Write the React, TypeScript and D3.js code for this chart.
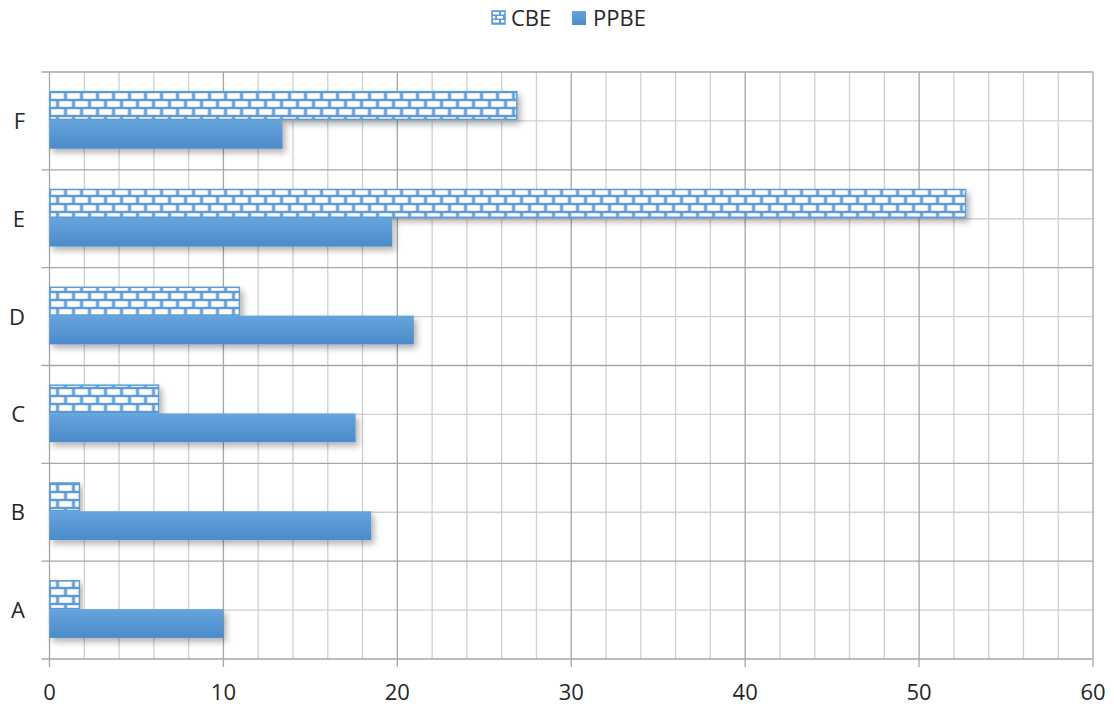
import React from "react";
import * as d3 from "d3";

const categories = ["A", "B", "C", "D", "E", "F"];
const seriesNames = ["CBE", "PPBE"];
const cbeValues = [1.75, 1.75, 6.3, 10.95, 52.7, 26.9];
const ppbeValues = [10.0, 18.5, 17.6, 20.95, 19.7, 13.4];
const xTicks = [0, 10, 20, 30, 40, 50, 60];
const minorStep = 2;

const W = 1114;
const H = 707;
const left = 49.5;
const right = 1093;
const top = 72;
const bottom = 659;
const FONT = "'Open Sans', 'Noto Sans', sans-serif";

export default function App() {
  const x = d3.scaleLinear().domain([0, 60]).range([left, right]);
  const y = d3
    .scaleBand<string>()
    .domain([...categories].reverse())
    .range([top, bottom]);
  const bw = y.bandwidth();
  const inner = d3
    .scaleBand<string>()
    .domain(seriesNames)
    .range([bw * 0.196, bw * 0.784]);

  const minorTicks = d3.range(0, 60 + 0.001, minorStep);
  const values: Record<string, number[]> = { CBE: cbeValues, PPBE: ppbeValues };

  return (
    <svg width={W} height={H} style={{ display: "block", position: "absolute", left: 0, top: 0 }}>
      <defs>
        <pattern id="brick" width="16" height="16" patternUnits="userSpaceOnUse" x={left} y="92">
          <rect width="16" height="16" fill="#5b9bd5" />
          <rect x="1.5" y="1.2" width="13" height="5.6" fill="#ffffff" />
          <rect x="-6.5" y="9.2" width="13" height="5.6" fill="#ffffff" />
          <rect x="9.5" y="9.2" width="13" height="5.6" fill="#ffffff" />
        </pattern>
        <pattern id="brickSmall" width="8" height="8" patternUnits="userSpaceOnUse" x="492" y="11">
          <rect width="8" height="8" fill="#5b9bd5" />
          <rect x="1" y="1" width="6" height="2.5" fill="#ffffff" />
          <rect x="-3" y="5" width="6" height="2.5" fill="#ffffff" />
          <rect x="5" y="5" width="6" height="2.5" fill="#ffffff" />
        </pattern>
        <linearGradient id="solidGrad" x1="0" y1="0" x2="0" y2="1">
          <stop offset="0" stopColor="#66a4dc" />
          <stop offset="1" stopColor="#4b8bcb" />
        </linearGradient>
        <filter id="shadow" x="-5%" y="-30%" width="115%" height="180%">
          <feDropShadow dx="3" dy="4" stdDeviation="3" floodColor="#000" floodOpacity="0.3" />
        </filter>
      </defs>
      <rect width={W} height={H} fill="#ffffff" />

      {/* minor vertical gridlines */}
      {minorTicks
        .filter((t) => t % 10 !== 0)
        .map((t) => (
          <line key={"mv" + t} x1={x(t)} x2={x(t)} y1={top} y2={bottom} stroke="#d0d0d0" strokeWidth={1.3} />
        ))}
      {/* minor horizontal gridlines at category centers */}
      {categories.map((c) => (
        <line
          key={"mh" + c}
          x1={left}
          x2={right}
          y1={(y(c) as number) + bw / 2}
          y2={(y(c) as number) + bw / 2}
          stroke="#d0d0d0"
          strokeWidth={1.3}
        />
      ))}
      {/* major vertical gridlines */}
      {xTicks.map((t) => (
        <line key={"v" + t} x1={x(t)} x2={x(t)} y1={top} y2={bottom + 8} stroke="#a6a6a6" strokeWidth={1.3} />
      ))}
      {/* major horizontal gridlines at band boundaries */}
      {[...categories.map((c) => y(c) as number), bottom].map((yy, i) => (
        <line key={"h" + i} x1={left - 8} x2={right} y1={yy} y2={yy} stroke="#a6a6a6" strokeWidth={1.3} />
      ))}

      {/* bars */}
      {categories.map((c, i) =>
        seriesNames.map((s) => {
          const y0 = (y(c) as number) + (inner(s) as number);
          const h = inner.bandwidth();
          const w = x(values[s][i]) - x(0);
          return s === "CBE" ? (
            <rect
              key={c + s}
              x={x(0) + 0.5}
              y={y0 + 0.5}
              width={w - 1}
              height={h - 1}
              fill="url(#brick)"
              stroke="#5b9bd5"
              strokeWidth={1.5}
              filter="url(#shadow)"
            />
          ) : (
            <rect key={c + s} x={x(0)} y={y0} width={w} height={h} fill="url(#solidGrad)" filter="url(#shadow)" />
          );
        })
      )}

      {/* category labels */}
      {categories.map((c) => (
        <text
          key={"l" + c}
          x={25}
          y={(y(c) as number) + bw / 2}
          dy="0.36em"
          textAnchor="end"
          fontFamily={FONT}
          fontSize={22}
          fill="#262626"
        >
          {c}
        </text>
      ))}
      {/* x tick labels */}
      {xTicks.map((t) => (
        <text key={"t" + t} x={x(t)} y={700} textAnchor="middle" fontFamily={FONT} fontSize={22} fill="#262626">
          {t}
        </text>
      ))}

      {/* legend */}
      <rect x={492} y={11} width={13} height={13} fill="url(#brickSmall)" stroke="#5b9bd5" strokeWidth={1.5} />
      <text x={511} y={26} fontFamily={FONT} fontSize={22} fill="#262626">
        {seriesNames[0]}
      </text>
      <rect x={572} y={11} width={14} height={14} fill="url(#solidGrad)" />
      <text x={593} y={26} fontFamily={FONT} fontSize={22} fill="#262626">
        {seriesNames[1]}
      </text>
    </svg>
  );
}
